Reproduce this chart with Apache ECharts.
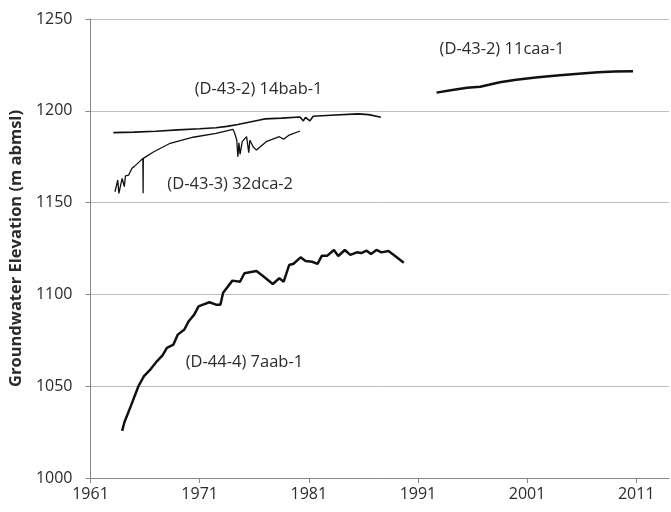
<!DOCTYPE html>
<html lang="en">
<head>
	<meta charset="UTF-8">
	<title>Groundwater Elevation</title>
	<script src="https://cdn.jsdelivr.net/npm/echarts@6/dist/echarts.min.js" type="text/javascript"></script>
	<style>
		html,body{margin:0;padding:0;background:#fff;}
		#chart{width:671px;height:512px;}
	</style>
</head>
<body>
<div id="chart"></div>
<script>
	// (D-44-4) 7aab-1
	var yrs7aab = [1963.9,1964.1,1964.7,1965.4,1965.9,1966.5,1967.1,1967.6,1968.0,1968.6,1969.0,1969.6,1970.0,1970.5,1970.9,1971.3,1971.9,1972.5,1972.9,1973.15,1974.0,1974.7,1975.1,1976.2,1976.8,1977.7,1978.3,1978.7,1979.2,1979.6,1980.25,1980.7,1981.3,1981.8,1982.2,1982.7,1983.3,1983.7,1984.3,1984.8,1985.4,1985.8,1986.3,1986.7,1987.2,1987.65,1988.3,1989.0,1989.7];
	var val7aab = [1025.7,1030.2,1039.3,1050.1,1055.5,1059.2,1063.7,1066.8,1070.9,1072.7,1078.1,1080.9,1085.4,1089.0,1093.5,1094.4,1095.7,1094.4,1094.4,1100.9,1107.5,1106.9,1111.5,1112.7,1110.0,1105.7,1108.8,1106.9,1116.0,1116.7,1120.2,1118.2,1117.8,1116.6,1121.1,1121.1,1124.2,1120.9,1124.2,1121.5,1122.9,1122.5,1123.8,1122.0,1124.2,1122.9,1123.6,1120.5,1117.3];

	// (D-43-2) 14bab-1
	var yrs14bab = [1963.1,1965,1967,1969,1971,1972.5,1973.5,1974.5,1975.5,1976.5,1977,1978.5,1980.2,1980.5,1980.7,1981.1,1981.4,1983,1985.5,1986.5,1987.6];
	var val14bab = [1188.1,1188.4,1188.9,1189.6,1190.2,1190.8,1191.5,1192.5,1193.8,1195.0,1195.6,1196.0,1196.6,1194.5,1196.4,1194.5,1197.0,1197.6,1198.3,1197.9,1196.5];

	// (D-43-3) 32dca-2
	var yrs32dca = [1963.24,1963.5,1963.6,1963.9,1964.1,1964.2,1964.5,1964.8,1965.0,1965.1,1965.8,1965.82,1965.84,1966.8,1968.3,1970.4,1972.5,1974.05,1974.2,1974.4,1974.5,1974.6,1974.7,1974.9,1975.3,1975.5,1975.6,1975.9,1976.2,1977.1,1978.3,1978.7,1979.2,1980.2];
	var val32dca = [1155.9,1162.3,1155.0,1163.2,1158.7,1164.5,1165.0,1168.7,1169.6,1169.9,1174.1,1155.1,1174.1,1177.7,1182.3,1185.6,1187.7,1189.9,1188.0,1184.1,1175.0,1182.6,1176.3,1183.2,1185.9,1177.2,1184.0,1180.4,1178.6,1183.2,1185.9,1184.5,1186.8,1189.0];

	// (D-43-2) 11caa-1
	var yrs11caa = [1992.7,1994,1995.5,1996.7,1997.5,1998.5,2000,2002,2004,2006,2007.5,2009,2010.7];
	var val11caa = [1209.9,1211.2,1212.5,1213.1,1214.2,1215.6,1216.9,1218.3,1219.3,1220.3,1221.0,1221.4,1221.6];

	// well labels and where they sit
	var wellNames = ['(D-43-2) 11caa-1','(D-43-2) 14bab-1','(D-43-3) 32dca-2','(D-44-4) 7aab-1'];
	var wellLabelX = [1998.7,1976.4,1973.8,1975.1];
	var wellLabelY = [1233.7,1211.9,1160.1,1063.2];

	var yearTicks = [1961,1971,1981,1991,2001,2011];

	function pairs(xs,ys){
		var arr=[];
		for(var i=0;i<xs.length;i++){
			arr.push([xs[i],ys[i]]);
		}
		return arr;
	}

	var textColor='#2b2b2b';
	var font='Open Sans';

	var labelData=[];
	for(var i=0;i<wellNames.length;i++){
		labelData.push({value:[wellLabelX[i],wellLabelY[i]],name:wellNames[i]});
	}

	var myChart = echarts.init(document.getElementById('chart'));
	var option = {
		backgroundColor:'#fff',
		animation:false,
		grid:{left:86,right:2,top:19,bottom:34},
		xAxis:{
			type:'value',
			min:1961,
			max:2014,
			axisLine:{show:true,lineStyle:{color:'#868686',width:1}},
			axisTick:{show:true,length:5,customValues:yearTicks,lineStyle:{color:'#868686'}},
			axisLabel:{customValues:yearTicks,color:textColor,fontSize:16,fontFamily:font,margin:8,
				formatter:function(v){return String(v);}},
			splitLine:{show:false}
		},
		yAxis:{
			type:'value',
			min:1000,
			max:1250,
			interval:50,
			name:'Groundwater Elevation (m abmsl)',
			nameLocation:'middle',
			nameGap:60,
			nameTextStyle:{color:textColor,fontSize:16.5,fontWeight:'bold',fontFamily:font},
			axisLine:{show:true,lineStyle:{color:'#868686',width:1}},
			axisTick:{show:true,length:5,lineStyle:{color:'#868686'}},
			axisLabel:{color:textColor,fontSize:16,fontFamily:font,margin:18,
				formatter:function(v){return String(v);}},
			splitLine:{show:true,lineStyle:{color:'#bfbfbf',width:1}}
		},
		series:[
			{
				name:'(D-44-4) 7aab-1',
				type:'line',
				showSymbol:false,
				data:pairs(yrs7aab,val7aab),
				lineStyle:{color:'#111',width:2.5}
			},
			{
				name:'(D-43-2) 14bab-1',
				type:'line',
				showSymbol:false,
				data:pairs(yrs14bab,val14bab),
				lineStyle:{color:'#111',width:1.6}
			},
			{
				name:'(D-43-3) 32dca-2',
				type:'line',
				showSymbol:false,
				data:pairs(yrs32dca,val32dca),
				lineStyle:{color:'#111',width:1.3}
			},
			{
				name:'(D-43-2) 11caa-1',
				type:'line',
				showSymbol:false,
				data:pairs(yrs11caa,val11caa),
				lineStyle:{color:'#111',width:2.5}
			},
			{
				type:'scatter',
				symbolSize:0,
				itemStyle:{color:'rgba(0,0,0,0)',opacity:1},
				data:labelData,
				label:{
					show:true,
					position:'inside',
					formatter:'{b}',
					color:textColor,
					textBorderWidth:0,
					fontSize:16.5,
					fontFamily:font
				}
			}
		]
	};
	myChart.setOption(option);
</script>
</body>
</html>
